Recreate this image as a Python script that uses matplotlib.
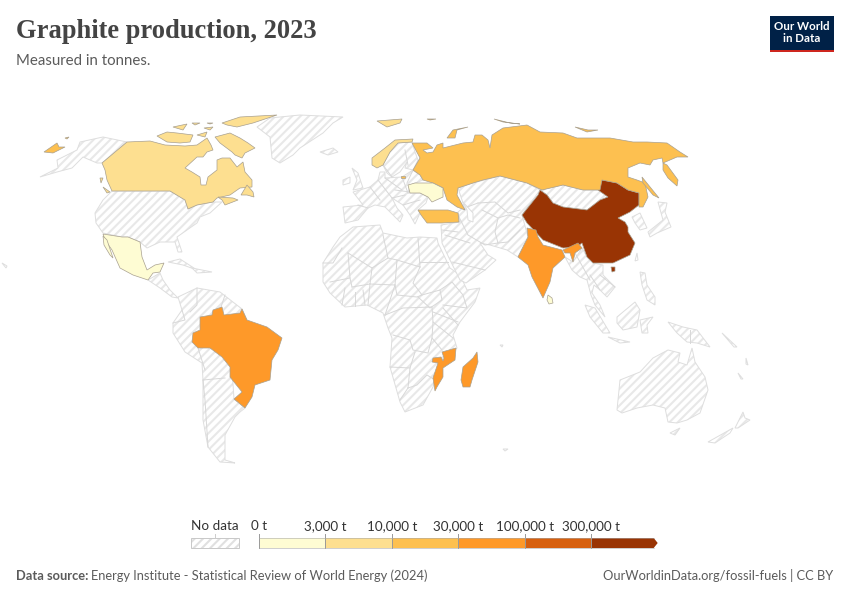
import numpy as np
import matplotlib
matplotlib.use('Agg')
import matplotlib.pyplot as plt
from matplotlib.patches import Polygon, Rectangle

#legend scale
bin_edges = [0, 3000, 10000, 30000, 100000, 300000]
bin_labels = ['0 t', '3,000 t', '10,000 t', '30,000 t', '100,000 t', '300,000 t']
bin_colors = ['#fefcd3', '#fddf90', '#fdc050', '#fe9929', '#d7600f', '#993404']

#production in tonnes, estimated from the colour of each country
production = {'China': 1230000, 'Madagascar': 90000, 'Mozambique': 96000, 'Brazil': 73000,
              'India': 83000, 'Russia': 16000, 'Turkey': 15000, 'Canada': 9000,
              'Norway': 6000, 'Ukraine': 2000, 'Mexico': 1000, 'Sri Lanka': 2000}

#outlines, in map units
canada = [
    [(102,163),(127,142),(150,141),(165,145),(185,146),(197,145),(207,138),(211,145),(213,150),(207,152),(203,157),(197,157),(185,168),(192,172),(200,177),(201,185),(206,185),(208,177),(217,170),(217,160),(222,158),(230,158),(237,167),(243,162),(245,172),(252,180),(252,187),(240,188),(230,195),(217,198),(213,202),(197,205),(188,209),(185,200),(170,191),(112,191),(107,180),(105,170)],
    [(215,137),(230,133),(240,138),(248,143),(255,148),(245,153),(242,158),(235,155),(232,152),(220,143)],
    [(157,136),(167,132),(177,133),(193,135),(190,142),(180,143),(167,142)],
    [(222,123),(240,117),(277,115),(253,123),(237,127),(227,125)],
    [(173,127),(187,124),(183,130)],
    [(197,135),(207,132),(205,137)],
    [(204,128),(213,127),(210,130)],
    [(207,123),(213,123),(210,124)],
    [(192,123),(200,123),(195,125)],
    [(241,195),(247,185),(253,192),(254,197),(247,195)],
    [(218,197),(233,198),(238,200),(225,205),(222,200)],
    [(103,187),(110,192),(107,193)],
    [(100,178),(103,178),(101,183)],
]
russia = [
    [(412,143),(427,143),(433,148),(423,150),(427,153),(433,152),(437,145),(443,143),(443,148),(463,143),(473,142),(475,135),(482,135),(488,140),(490,148),(492,135),(503,128),(527,125),(540,132),(563,133),(577,138),(610,138),(633,142),(647,142),(667,143),(680,152),(688,157),(677,157),(663,163),(662,158),(653,160),(650,165),(640,163),(628,168),(628,177),(637,180),(645,183),(648,197),(643,207),(639,207),(639,193),(628,190),(617,183),(602,180),(600,190),(583,190),(563,185),(542,190),(527,183),(500,176),(483,180),(473,183),(458,188),(457,195),(465,210),(457,207),(447,200),(443,188),(433,183),(423,180),(420,175),(413,170),(420,158)],
    [(663,163),(667,165),(678,180),(677,186),(668,178),(663,170)],
    [(642,177),(659,198),(653,195),(643,183)],
    [(447,138),(453,130),(468,127),(457,130),(455,138)],
    [(427,119),(436,119),(430,120)],
    [(494,119),(510,123),(520,124),(503,122)],
    [(575,127),(588,130),(598,130),(587,132)],
    [(44,152),(57,143),(59,147),(65,147),(53,153)],
    [(65,138),(69,137),(67,139)],
    [(401,176),(405,176),(405,178),(401,178)],
]
china = [
    [(522,215),(538,195),(540,190),(547,195),(553,203),(563,207),(587,210),(600,200),(608,197),(598,190),(602,180),(617,183),(628,190),(639,193),(639,205),(630,212),(618,218),(625,222),(628,227),(628,232),(635,243),(630,255),(613,263),(593,263),(587,257),(582,243),(577,247),(563,248),(543,240),(527,223)],
    [(611,267),(615,267),(615,271),(612,272)],
]
india = [
    [(527,228),(536,230),(538,237),(543,245),(562,250),(565,257),(553,268),(550,282),(543,298),(532,277),(528,265),(518,257),(523,247),(528,237)],
    [(563,250),(578,243),(582,248),(575,253),(573,262),(570,253),(565,253)],
]
brazil = [[(200,317),(212,315),(213,310),(222,307),(224,315),(240,313),(242,309),(247,320),(267,327),(282,338),(278,350),(272,360),(270,380),(255,385),(252,397),(245,408),(234,399),(242,392),(230,377),(230,367),(222,357),(210,348),(198,348),(192,342),(193,333),(200,330)]]
mexico = [
    [(103,234),(122,237),(128,237),(140,242),(142,257),(147,270),(155,265),(164,263),(160,272),(153,273),(148,280),(133,275),(120,268),(112,250),(105,240)],
    [(103,236),(107,240),(113,258),(110,255),(104,245)],
]
turkey = [[(418,210),(432,210),(448,210),(458,213),(459,222),(442,223),(427,223),(421,215)]]
ukraine = [[(408,185),(415,183),(433,183),(443,188),(443,197),(432,202),(428,197),(420,193),(410,193)]]
norway = [
    [(372,158),(385,148),(395,140),(413,139),(412,142),(398,143),(390,152),(383,165),(377,168),(372,165)],
    [(377,121),(402,119),(400,123),(387,127)],
]
mozambique = [[(442,352),(456,348),(455,360),(443,368),(443,377),(437,387),(435,391),(433,378),(438,363),(432,362),(433,358),(441,357),(443,361),(444,358)]]
madagascar = [[(477,352),(478,362),(472,380),(470,387),(463,387),(461,380),(463,367),(473,358)]]
sri_lanka = [[(548,295),(552,298),(553,303),(549,304),(547,300)]]

shapes = {'China': china, 'Madagascar': madagascar, 'Mozambique': mozambique, 'Brazil': brazil,
          'India': india, 'Russia': russia, 'Turkey': turkey, 'Canada': canada,
          'Norway': norway, 'Ukraine': ukraine, 'Mexico': mexico, 'Sri Lanka': sri_lanka}

#countries without data, drawn as one hatched layer
no_data = [
    [(257,127),(270,118),(300,115),(343,117),(333,123),(323,133),(300,148),(293,155),(280,163),(272,158),(270,137)],
    [(320,152),(333,148),(338,152),(328,155)],
    [(40,177),(58,168),(57,160),(77,150),(80,142),(103,137),(127,142),(102,163),(97,163),(83,157),(72,168),(57,172)],
    [(112,191),(170,191),(185,200),(188,209),(197,205),(213,202),(222,202),(210,213),(200,217),(197,223),(187,230),(177,237),(182,252),(178,252),(175,242),(160,242),(147,248),(140,242),(128,237),(122,237),(103,233),(96,223),(95,213),(103,200)],
    [(148,280),(160,273),(163,280),(170,290),(178,298),(172,297),(160,288)],
    [(168,262),(180,259),(197,270),(183,265)],
    [(192,268),(212,272),(197,273)],
    [(178,297),(197,288),(220,292),(242,309),(247,320),(230,340),(234,399),(245,408),(240,412),(235,417),(225,435),(225,460),(232,462),(235,463),(220,462),(208,447),(203,420),(203,380),(202,363),(185,352),(173,333),(173,323),(182,310)],
    [(323,263),(333,247),(340,237),(353,227),(380,225),(383,233),(407,238),(420,237),(437,238),(438,243),(450,268),(460,275),(467,290),(480,288),(475,302),(460,322),(453,335),(457,348),(442,363),(433,387),(423,405),(405,412),(400,402),(390,367),(392,338),(388,328),(383,313),(367,305),(345,307),(330,293),(323,282)],
    [(343,207),(363,205),(353,192),(370,187),(378,180),(380,172),(385,172),(385,178),(402,177),(413,170),(420,175),(423,180),(410,185),(408,193),(420,193),(428,197),(426,203),(418,210),(420,213),(415,224),(410,215),(403,205),(392,198),(397,208),(403,215),(400,222),(395,217),(385,207),(375,205),(368,208),(358,220),(345,223)],
    [(383,165),(390,152),(398,143),(412,142),(415,152),(418,160),(413,170),(405,168),(407,162),(400,172),(392,177),(387,173)],
    [(352,168),(358,173),(362,185),(363,188),(353,190),(357,180)],
    [(343,180),(350,177),(350,183),(343,185)],
    [(460,222),(458,212),(463,208),(465,210),(463,203),(458,188),(473,183),(500,176),(527,183),(540,190),(522,215),(528,237),(523,247),(518,257),(507,250),(490,245),(480,243),(488,255),(496,260),(485,270),(466,283),(460,280),(450,260),(442,243),(441,225)],
    [(547,195),(540,190),(563,185),(583,190),(600,190),(608,197),(600,200),(587,210),(563,207),(553,203)],
    [(565,257),(573,262),(582,248),(587,257),(593,263),(603,265),(603,275),(615,287),(607,297),(600,290),(594,285),(592,293),(600,305),(605,317),(595,305),(591,295),(587,280),(580,277),(572,270)],
    [(632,217),(640,213),(647,228),(640,230),(635,223)],
    [(658,202),(667,203),(665,212),(671,227),(657,233),(650,237),(648,232),(663,220)],
    [(637,253),(638,260),(635,261)],
    [(640,272),(645,273),(647,285),(655,297),(655,305),(647,300),(642,285)],
    [(585,305),(595,308),(610,333),(603,333),(590,317)],
    [(608,337),(630,342),(620,343)],
    [(617,317),(635,302),(640,310),(637,327),(623,330),(617,323)],
    [(640,320),(653,317),(647,325),(648,333),(642,333)],
    [(668,322),(683,327),(697,330),(710,347),(697,343),(687,342),(677,333)],
    [(617,410),(620,380),(640,372),(653,358),(668,350),(680,353),(678,362),(687,365),(692,348),(695,362),(705,377),(708,390),(700,413),(687,420),(677,423),(668,422),(665,408),(653,405),(637,408),(622,413)],
    [(735,428),(743,412),(745,418),(750,420),(738,428)],
    [(708,442),(733,428),(730,433),(715,443)],
    [(670,433),(680,428),(675,435)],
    [(2,263),(7,266),(6,268)],
    [(503,449),(508,449),(505,451)],
    [(738,373),(743,379),(741,379)],
    [(722,333),(737,347),(734,347)],
    [(746,358),(748,365),(746,364)],
    [(500,345),(503,345),(502,347)],
]

#water cut out of the no data layer
caspian = [(463,202),(473,213),(473,222),(468,220),(467,210)]

#borders between countries
borders = [
    [(323,263),(333,263),(342,248)], [(348,253),(372,268),(388,258),(383,235)], [(348,253),(350,278),(330,282)],
    [(372,268),(370,284),(352,287)], [(350,278),(352,287)], [(388,258),(397,260),(395,285),(370,284)],
    [(418,238),(420,267)], [(397,260),(420,267)], [(420,262),(448,262)],
    [(420,267),(413,283),(422,295),(417,297),(397,295),(395,285)], [(422,295),(440,290),(442,300),(430,308),(418,297)],
    [(440,290),(452,282),(463,295),(467,308),(443,305)], [(443,308),(458,325)], [(433,312),(458,322)],
    [(385,315),(403,308),(432,307),(433,322),(432,338),(428,353),(413,350),(410,340),(393,335)],
    [(433,322),(453,338)], [(432,338),(442,350)], [(390,367),(410,368),(415,352)],
    [(410,368),(408,388)], [(408,388),(417,385),(427,375),(435,380)], [(400,400),(408,388)],
    [(345,288),(342,305)], [(355,292),(355,306)], [(363,290),(365,305)], [(370,284),(368,305)], [(395,285),(385,315)],
    [(197,288),(197,305),(190,312)], [(173,323),(185,320),(182,310)], [(198,348),(205,370)],
    [(203,380),(225,378)], [(225,295),(220,310)], [(208,447),(205,400),(203,380)],
    [(358,205),(368,208)], [(370,187),(380,200)], [(378,180),(392,198)], [(385,178),(402,190)],
    [(402,177),(408,193)], [(403,205),(420,200)], [(395,190),(410,192)], [(392,198),(405,195)], [(413,170),(407,183)],
    [(383,165),(392,177)], [(405,150),(408,165)],
    [(478,203),(495,202),(508,213),(520,210)], [(458,215),(468,235),(485,245),(498,243),(495,232),(498,218),(482,210)],
    [(498,218),(508,215),(520,218)], [(498,243),(508,242),(520,230)], [(445,235),(470,243)], [(442,230),(458,232)],
    [(467,207),(478,203)], [(452,262),(485,270)], [(575,253),(590,280)], [(600,290),(590,275)],
    [(690,330),(690,343)], [(600,275),(615,287)],
]

def get_color(value):
    return bin_colors[np.digitize(value, bin_edges) - 1]

plt.rcParams['font.family'] = ['Lato', 'DejaVu Sans']
plt.rcParams['hatch.linewidth'] = 1.5

fig = plt.figure(figsize=(8.5, 6), dpi=100)
ax = fig.add_axes([0, 0, 1, 1])
ax.set_xlim(0, 850)
ax.set_ylim(600, 0)
ax.axis('off')

#hatched countries, stripes first and a separate outline on top
for poly in no_data:
    ax.add_patch(Polygon(poly, closed=True, facecolor='white', edgecolor='#e8e8e8', hatch='////', lw=0))
    ax.add_patch(Polygon(poly, closed=True, fill=False, edgecolor='#dedede', lw=0.7))
ax.add_patch(Polygon(caspian, closed=True, facecolor='white', edgecolor='#dedede', lw=0.7))
for line in borders:
    xs, ys = zip(*line)
    ax.plot(xs, ys, color='#d8d8d8', lw=0.7)

#countries with data
for name, value in production.items():
    for poly in shapes[name]:
        ax.add_patch(Polygon(poly, closed=True, facecolor=get_color(value), edgecolor='#a8a090', lw=0.5, zorder=3))

#title block
ax.text(16, 32, 'Graphite production, 2023', fontsize=19.1, fontweight='bold', family='Liberation Serif',
        color='#444444', va='center')
ax.text(16, 61, 'Measured in tonnes.', fontsize=10.8, color='#5b5b5b', va='center')

#logo
ax.add_patch(Rectangle((770, 16), 64, 36, facecolor='#002147', edgecolor='none'))
ax.add_patch(Rectangle((770, 49.5), 64, 2.5, facecolor='#ce261e', edgecolor='none'))
ax.text(802, 27, 'Our World', fontsize=8.3, fontweight='bold', color='white', ha='center', va='center')
ax.text(802, 39, 'in Data', fontsize=8.3, fontweight='bold', color='white', ha='center', va='center')

#legend
ax.add_patch(Rectangle((191, 538), 48, 10, facecolor='white', edgecolor='#e0e0e0', hatch='////', lw=0))
ax.add_patch(Rectangle((191, 538), 48, 10, fill=False, edgecolor='#c8c8c8', lw=0.7))
ax.text(215, 526, 'No data', fontsize=9.7, color='#333333', ha='center', va='center')
ax.plot([215, 215], [534, 538], color='#cccccc', lw=0.7)
bar_left = 258.7
step = 66.5
for i, label in enumerate(bin_labels):
    x0 = bar_left + i * step
    if i < len(bin_colors) - 1:
        ax.add_patch(Rectangle((x0, 538), step, 10, facecolor=bin_colors[i], edgecolor='none'))
    else:
        ax.add_patch(Polygon([(x0, 538), (x0 + step - 4, 538), (x0 + step, 543), (x0 + step - 4, 548), (x0, 548)],
                             closed=True, facecolor=bin_colors[i], edgecolor='none'))
    ax.plot([x0, x0], [534, 548], color='#999999', lw=0.7)
    ax.text(x0, 526, label, fontsize=9.7, color='#333333', ha='center', va='center')
ax.plot([bar_left, bar_left + 5 * step + step - 4], [538, 538], color='#aaaaaa', lw=0.4)
ax.plot([bar_left, bar_left + 5 * step + step - 4], [548, 548], color='#aaaaaa', lw=0.4)

#footer
ax.text(16, 576, 'Data source:', fontsize=9.3, fontweight='bold', color='#5b5b5b', va='center')
ax.text(91, 576, 'Energy Institute - Statistical Review of World Energy (2024)', fontsize=9.3,
        color='#5b5b5b', va='center')
ax.text(833, 576, 'OurWorldinData.org/fossil-fuels | CC BY', fontsize=9.3, color='#5b5b5b', ha='right', va='center')

fig.savefig('out.png', dpi=100)
